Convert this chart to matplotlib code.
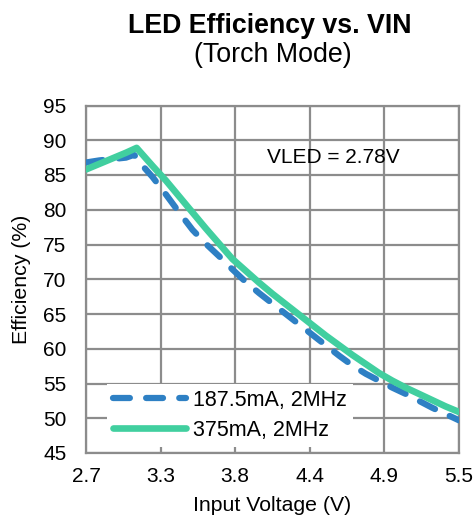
import matplotlib
matplotlib.use("Agg")
import matplotlib.pyplot as plt
import numpy as np

plt.rcParams['font.family'] = ['Liberation Sans', 'DejaVu Sans']

# Data
vin_a = [2.70, 2.80, 2.90, 3.00, 3.06, 3.10, 3.14, 3.20, 3.30, 3.40, 3.50, 3.60, 3.70,
         3.80, 3.90, 4.00, 4.10, 4.20, 4.30, 4.40, 4.50, 4.60, 4.70, 4.80, 4.90, 5.00,
         5.10, 5.20, 5.30, 5.40, 5.50]
eff_a = [86.8, 87.1, 87.3, 87.5, 87.9, 87.2, 86.0, 84.7, 82.2, 79.6, 77.1, 75.1, 73.3,
         71.4, 69.6, 68.0, 66.5, 65.0, 63.5, 62.0, 60.5, 59.0, 57.6, 56.4, 55.4, 54.4,
         53.5, 52.5, 51.5, 50.6, 49.7]

vin_b = [2.70, 2.80, 2.90, 3.00, 3.08, 3.20, 3.30, 3.40, 3.50, 3.60, 3.70, 3.80, 3.90,
         4.00, 4.10, 4.20, 4.30, 4.40, 4.50, 4.60, 4.70, 4.80, 4.90, 5.00, 5.10, 5.20,
         5.30, 5.40, 5.50]
eff_b = [85.8, 86.6, 87.4, 88.2, 88.9, 86.3, 84.2, 81.9, 79.6, 77.3, 75.1, 72.9, 71.2,
         69.5, 67.9, 66.4, 64.9, 63.4, 61.9, 60.5, 59.1, 57.8, 56.5, 55.4, 54.4, 53.5,
         52.6, 51.7, 50.9]

label_a = "187.5mA, 2MHz"
label_b = "375mA, 2MHz"
xticks = [2.7, 3.26, 3.82, 4.38, 4.94, 5.5]
xticklabels = ["2.7", "3.3", "3.8", "4.4", "4.9", "5.5"]
yticks = [45, 50, 55, 60, 65, 70, 75, 80, 85, 90, 95]

fig = plt.figure(figsize=(4.74, 5.27), dpi=100)
ax = fig.add_axes([86/474, 1-453/527, (459-86)/474, (453-105.5)/527])

grid_c = '#8c8c8c'
ax.plot(vin_a, eff_a, color='#2e80c4', lw=4.5, linestyle=(0, (2.7, 2.6)),
        dash_capstyle='round', solid_capstyle='round', label=label_a, zorder=3)
ax.plot(vin_b, eff_b, color='#41cf9f', lw=4.8, solid_capstyle='round',
        solid_joinstyle='round', label=label_b, zorder=4)

ax.set_xlim(2.7, 5.5)
ax.set_ylim(45, 95)
ax.set_xticks(xticks)
ax.set_xticklabels(xticklabels)
ax.set_yticks(yticks)
ax.tick_params(axis='both', length=0, labelsize=15)
ax.tick_params(axis='y', pad=14)
ax.tick_params(axis='x', pad=10)
ax.grid(True, color=grid_c, lw=1.6, zorder=0)
ax.set_axisbelow(True)
for s in ax.spines.values():
    s.set_color(grid_c)
    s.set_linewidth(1.6)

ax.set_xlabel("Input Voltage (V)", fontsize=15.3, labelpad=7)
ax.set_ylabel("Efficiency (%)", fontsize=15.3, labelpad=9)

ax.text(4.06, 87.5, "VLED = 2.78V", fontsize=15, ha='left', va='center')

fig.text(270/474, 1-32.7/527, "LED Efficiency vs. VIN", fontsize=19.3, fontweight='bold',
         ha='center', va='baseline')
fig.text(273/474, 1-61.7/527, "(Torch Mode)", fontsize=19.3, ha='center', va='baseline')

leg = ax.legend(loc='upper left', bbox_to_anchor=(0.055, 0.2), fontsize=15.5,
                handlelength=3.4, handletextpad=0.3, labelspacing=0.4,
                borderpad=0.3, borderaxespad=0, frameon=True, fancybox=False)
leg.get_frame().set_edgecolor('none')
leg.get_frame().set_facecolor('white')
leg.get_frame().set_alpha(1)

fig.savefig("out.png", dpi=100)
